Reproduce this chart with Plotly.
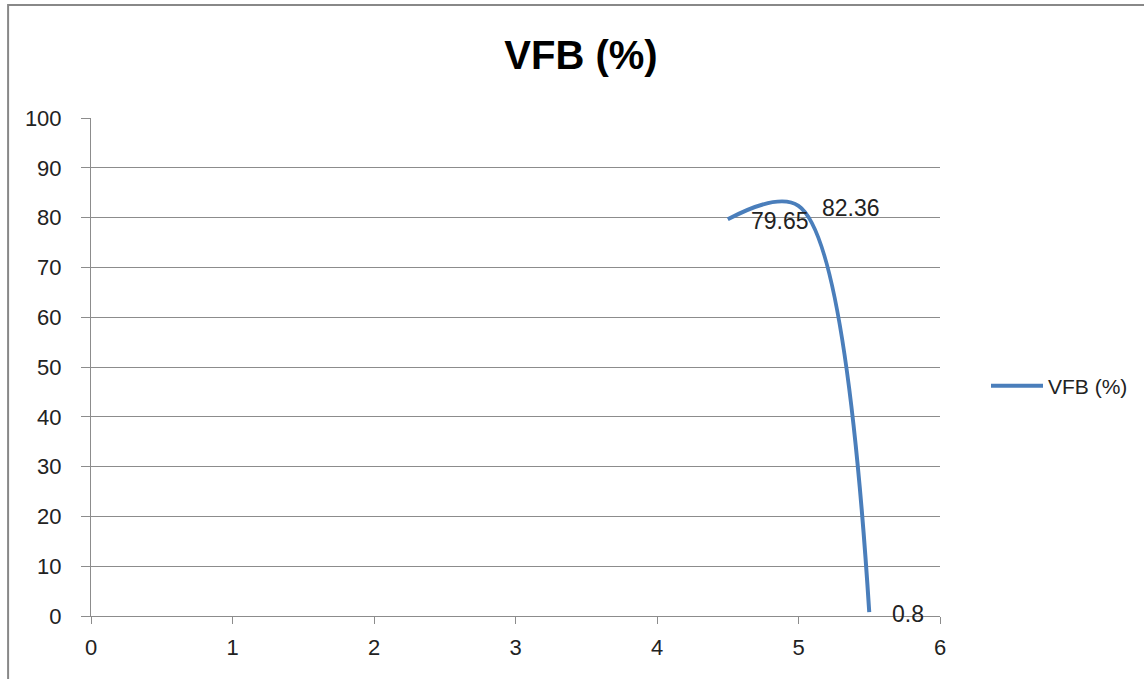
import plotly.graph_objects as go

# VFB (%) series
x_vals = [4.5, 5, 5.5]
vfb = [79.65, 82.36, 0.8]
x_ticks = [0, 1, 2, 3, 4, 5, 6]
y_ticks = [0, 10, 20, 30, 40, 50, 60, 70, 80, 90, 100]

W, H = 1144, 679
L, R, T, B = 91, 941, 118, 616  # plot area in pixels

FONT = "Liberation Sans"
GRID = "#8c8c8c"
LINE = "#4a7ebb"
TXT = "#222222"

fig = go.Figure()
fig.add_trace(go.Scatter(
    x=x_vals, y=vfb, mode="lines", name="VFB (%)",
    line=dict(color=LINE, width=4, shape="spline", smoothing=1.0),
))

# data labels to the right of each point
for xv, yv in zip(x_vals, vfb):
    fig.add_annotation(
        x=xv, y=yv, text=f"{yv:g}", showarrow=False,
        xanchor="left", yanchor="middle", xshift=21, yshift=-2,
        font=dict(family=FONT, size=23, color=TXT),
    )

# chart area border
fig.add_shape(
    type="rect", xref="paper", yref="paper",
    x0=(8 - L) / (R - L), x1=(W + 20 - L) / (R - L),
    y0=(B - (H + 20)) / (B - T), y1=(B - 5) / (B - T),
    line=dict(color="#888888", width=2), fillcolor="rgba(0,0,0,0)",
    layer="below",
)

fig.update_layout(
    width=W, height=H,
    margin=dict(l=L, r=W - R, t=T, b=H - B, pad=0),
    paper_bgcolor="white", plot_bgcolor="white",
    title=dict(text="<b>VFB (%)</b>", x=581 / W, xanchor="center",
               y=1 - 55 / H, yanchor="middle",
               font=dict(family=FONT, size=40, color="black")),
    showlegend=True,
    legend=dict(x=(986 - L) / (R - L), y=(B - 386) / (B - T),
                xanchor="left", yanchor="middle",
                font=dict(family=FONT, size=21, color=TXT),
                itemwidth=52, bgcolor="rgba(0,0,0,0)"),
    xaxis=dict(range=[0, 6], tickvals=x_ticks, showgrid=False,
               showline=True, linecolor=GRID, linewidth=1,
               ticks="outside", ticklen=7, tickcolor=GRID,
               zeroline=False, ticklabelstandoff=5,
               tickfont=dict(family=FONT, size=22, color=TXT)),
    yaxis=dict(range=[0, 100], tickvals=y_ticks, showgrid=True,
               gridcolor=GRID, gridwidth=1,
               showline=True, linecolor=GRID, linewidth=1,
               ticks="outside", ticklen=9, tickcolor=GRID,
               zeroline=False, ticklabelstandoff=15,
               tickfont=dict(family=FONT, size=22, color=TXT)),
)

fig.write_html("out.html")
